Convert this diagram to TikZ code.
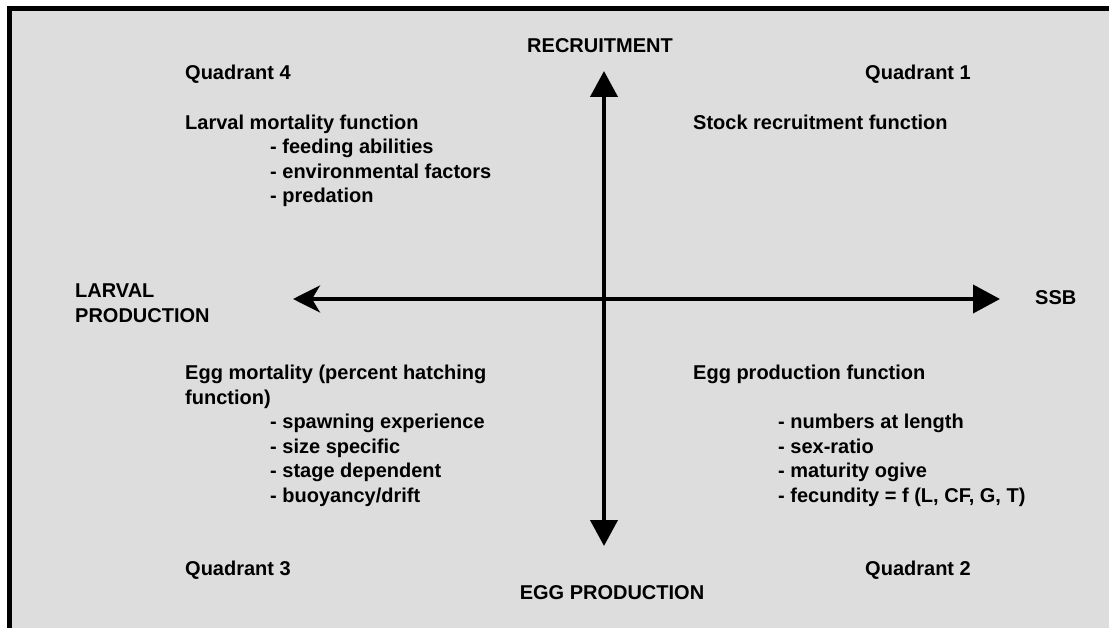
\documentclass[tikz,border=0pt]{standalone}
\usepackage{fontspec}
\setmainfont{Liberation Sans}
\usepackage{xcolor}
\usetikzlibrary{arrows.meta}
\definecolor{panel}{RGB}{221,221,221}

\begin{document}
\begin{tikzpicture}[
    x=1pt, y=-1pt,
    txt/.style={anchor=base west,inner sep=0pt,font=\fontsize{20}{24.5}\selectfont\bfseries},
    txtr/.style={txt,anchor=base east},
    txtc/.style={txt,anchor=base},
    axis/.style={line width=4pt},
  ]
  \useasboundingbox (0,0) rectangle (1109,628);

  % --- panel and its frame (left and top edges only) ---
  \fill[panel] (7,6) rectangle (1109,628);
  \draw[line width=5.5pt] (9.5,628) -- (9.5,8.7) -- (1109,8.7);

  % --- axis ends ---
  \coordinate (west)  at (293,299);
  \coordinate (east)  at (1000,299);
  \coordinate (north) at (604,71);
  \coordinate (south) at (604,546);

  \draw[axis,{Stealth[length=27pt,width=27pt,inset=8pt]}-{Triangle[length=27pt,width=28pt]}] (west) -- (east);
  \draw[axis,{Triangle[length=26pt,width=27pt]}-{Triangle[length=26pt,width=27pt]}] (north) -- (south);

  % --- axis labels ---
  \node[txtc] (rec) at (600,52.5)  {RECRUITMENT};
  \node[txtc] (egp) at (612,599.5) {EGG PRODUCTION};
  \node[txt]  (ssb) at (1035,304.5) {SSB};
  \node[txt]  (lp1) at (75,298) {LARVAL};
  \node[txt]  (lp2) at (75,323) {PRODUCTION};

  % --- quadrant names ---
  \node[txt]  (q4) at (185,79.5)  {Quadrant 4};
  \node[txtr] (q1) at (971,79.5)  {Quadrant 1};
  \node[txt]  (q3) at (185,575.5) {Quadrant 3};
  \node[txtr] (q2) at (971,575.5) {Quadrant 2};

  % --- quadrant 4: larval mortality ---
  \node[txt] (lmf) at (185,129.5) {Larval mortality function};
  \foreach \t [count=\i] in {- feeding abilities,- environmental factors,- predation}
    \node[txt] (lm\i) at (270,129.5+24.5*\i) {\t};

  % --- quadrant 1 ---
  \node[txt] (srf) at (693,129.5) {Stock recruitment function};

  % --- quadrant 3: egg mortality ---
  \node[txt] (emf) at (185,379.5) {Egg mortality (percent hatching};
  \node[txt] (emg) at (185,404) {function)};
  \foreach \t [count=\i] in {- spawning experience,- size specific,- stage dependent,- buoyancy/drift}
    \node[txt] (em\i) at (270,404+24.5*\i) {\t};

  % --- quadrant 2: egg production ---
  \node[txt] (epf) at (693,379.5) {Egg production function};
  \foreach \t [count=\i] in {- numbers at length,- sex-ratio,- maturity ogive,{- fecundity = f (L, CF, G, T)}}
    \node[txt] (ep\i) at (778,404+24.5*\i) {\t};

\end{tikzpicture}
\end{document}
